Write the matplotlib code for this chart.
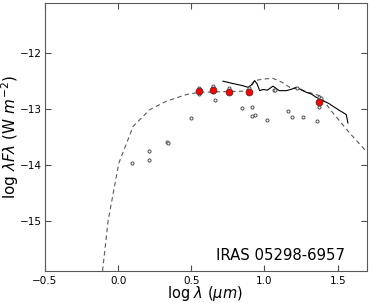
import numpy as np
import matplotlib
matplotlib.use("Agg")
import matplotlib.pyplot as plt

# model SED (dashed)
model_x = [-0.106, -0.068, 0.005, 0.103, 0.217, 0.33, 0.467, 0.55, 0.7, 0.85, 0.9,
           0.933, 1.0, 1.058, 1.12, 1.172, 1.22, 1.3, 1.377, 1.468, 1.582, 1.696]
model_y = [-15.9, -15.0, -13.97, -13.31, -13.01, -12.86, -12.74, -12.70, -12.69, -12.68, -12.64,
           -12.49, -12.46, -12.45, -12.52, -12.61, -12.64, -12.70, -12.76, -13.07, -13.43, -13.76]

# spectrum (solid)
spec_x = [0.717, 0.78, 0.85, 0.888, 0.91, 0.933, 0.95, 0.967, 0.99, 1.02, 1.058, 1.08,
          1.10, 1.15, 1.19, 1.218, 1.25, 1.286, 1.32, 1.354, 1.40, 1.44, 1.468, 1.51, 1.559, 1.57]
spec_y = [-12.50, -12.54, -12.58, -12.61, -12.57, -12.49, -12.55, -12.67, -12.65, -12.66, -12.59, -12.63,
          -12.67, -12.67, -12.64, -12.61, -12.65, -12.70, -12.73, -12.79, -12.85, -12.90, -12.95, -13.02, -13.10, -13.25]

# photometry (open circles)
phot_x = [0.096, 0.21, 0.21, 0.335, 0.338, 0.501, 0.551, 0.551, 0.651, 0.651, 0.660, 0.756,
          0.849, 0.893, 0.915, 0.915, 0.937, 1.018, 1.063, 1.075, 1.16, 1.19, 1.22, 1.264,
          1.359, 1.372, 1.372, 1.385]
phot_y = [-13.96, -13.75, -13.91, -13.59, -13.61, -13.16, -12.62, -12.73, -12.58, -12.70, -12.83, -12.62,
          -12.98, -12.62, -12.97, -13.12, -13.11, -13.19, -12.65, -12.66, -13.04, -13.15, -12.63, -13.15,
          -13.22, -12.78, -12.96, -12.80]

# fitted points (red)
fit_x = [0.551, 0.651, 0.756, 0.893, 1.372]
fit_y = [-12.68, -12.66, -12.69, -12.70, -12.87]

fig = plt.figure(figsize=(3.71, 3.03), dpi=100)
ax = fig.add_axes([0.121, 0.106, 0.868, 0.884])

ax.plot(model_x, model_y, ls="--", color="0.35", lw=0.8, dashes=(4, 3))
ax.plot(spec_x, spec_y, "-", color="k", lw=0.8)
ax.plot(phot_x, phot_y, "o", mfc="white", mec="0.3", ms=2.2, mew=0.7)
ax.plot(fit_x, fit_y, "o", color="red", mec="0.2", ms=5, mew=0.5)

ax.text(1.548, -15.63, "IRAS 05298-6957", ha="right", va="center", fontsize=10.7)

ax.set_xlim(-0.5, 1.7)
ax.set_ylim(-15.9, -11.1)
ax.set_xticks([-0.5, 0.0, 0.5, 1.0, 1.5])
ax.set_yticks([-15, -14, -13, -12])
ax.set_xticklabels(["\u22120.5", "0.0", "0.5", "1.0", "1.5"])
ax.set_yticklabels(["\u221215", "\u221214", "\u221213", "\u221212"])
ax.tick_params(direction="in", length=4, labelsize=7.5, top=True, right=True, color="0.3")
ax.tick_params(axis="y", pad=2)
for s in ax.spines.values():
    s.set_color("0.35")
ax.set_xlabel(r"log $\lambda$ ($\mu m$)", fontsize=10.5)
ax.set_ylabel(r"log $\lambda F\lambda$ (W $m^{-2}$)", fontsize=11)
ax.xaxis.set_label_coords(0.497, -0.05)
ax.yaxis.set_label_coords(-0.075, 0.5)

fig.savefig("out.png", dpi=100)
